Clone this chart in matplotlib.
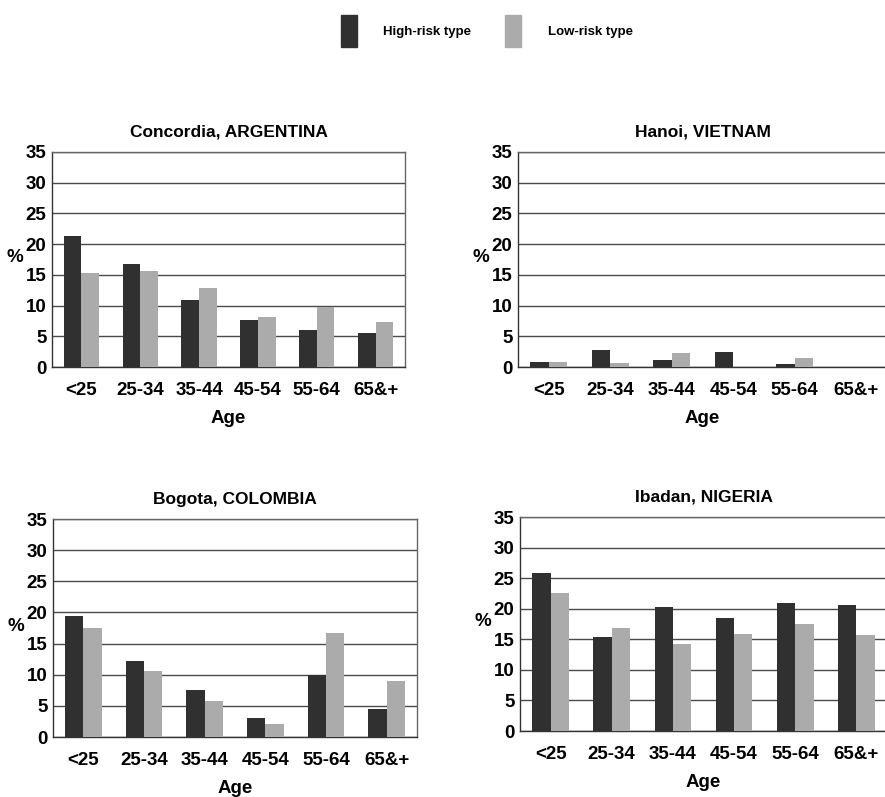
import matplotlib
matplotlib.use("Agg")
import matplotlib.pyplot as plt
from matplotlib.patches import Patch
import numpy as np

plt.rcParams['font.family'] = ['Liberation Sans', 'DejaVu Sans']
plt.rcParams['font.weight'] = 'bold'

ages = ['<25', '25-34', '35-44', '45-54', '55-64', '65&+']
series_names = ['High-risk type', 'Low-risk type']

titles = ['Concordia, ARGENTINA', 'Hanoi, VIETNAM', 'Bogota, COLOMBIA', 'Ibadan, NIGERIA']

concordia_high = [21.3, 16.7, 10.9, 7.6, 6.1, 5.5]
concordia_low = [15.3, 15.6, 12.8, 8.1, 9.8, 7.3]
hanoi_high = [0.8, 2.8, 1.1, 2.5, 0.5, 0.0]
hanoi_low = [0.8, 0.6, 2.2, 0.0, 1.4, 0.0]
bogota_high = [19.5, 12.2, 7.6, 3.0, 10.0, 4.5]
bogota_low = [17.5, 10.6, 5.8, 2.1, 16.7, 9.0]
ibadan_high = [25.8, 15.3, 20.2, 18.4, 21.0, 20.6]
ibadan_low = [22.6, 16.8, 14.2, 15.8, 17.5, 15.7]

highs = [concordia_high, hanoi_high, bogota_high, ibadan_high]
lows = [concordia_low, hanoi_low, bogota_low, ibadan_low]

c_high = '#303030'
c_low = '#ababab'

fig = plt.figure(figsize=(8.85, 7.97), dpi=100)

# axes boxes in pixels: left, top, right, bottom
boxes = [(52, 152, 405, 367), (518, 152, 887, 367),
         (53, 519, 417, 737), (520, 517, 887, 731)]
W, H = 885.0, 797.0

x = np.arange(len(ages)) + 0.5
bw = 0.3
for i in range(4):
    l, t, r, b = boxes[i]
    ax = fig.add_axes([l / W, 1 - b / H, (r - l) / W, (b - t) / H])
    ax.bar(x - bw / 2, highs[i], bw, color=c_high, zorder=3)
    ax.bar(x + bw / 2, lows[i], bw, color=c_low, zorder=3)
    ax.set_xlim(0, 6)
    ax.set_ylim(0, 35)
    ax.set_yticks(range(0, 36, 5))
    ax.set_xticks(x)
    ax.set_xticklabels(ages)
    ax.tick_params(axis='both', length=0, labelsize=13.5)
    ax.tick_params(axis='x', pad=11)
    ax.tick_params(axis='y', pad=4)
    ax.grid(axis='y', color='#4a4a4a', lw=1, zorder=0)
    for s in ['top', 'right']:
        ax.spines[s].set_color('#666666')
        ax.spines[s].set_linewidth(1)
    for s in ['left', 'bottom']:
        ax.spines[s].set_color('#333333')
        ax.spines[s].set_linewidth(1)
    ax.set_title(titles[i], fontsize=12.5, fontweight='bold', pad=11)
    ax.set_xlabel('Age', fontsize=13.5, fontweight='bold', labelpad=8)
    ax.set_ylabel('%', fontsize=13.5, fontweight='bold', rotation=0)
    ax.yaxis.set_label_coords(-37.0 / (r - l), 0.47)

handles = [Patch(color=c_high), Patch(color=c_low)]
fig.legend(handles, series_names, loc='center', bbox_to_anchor=(0.55, 0.961),
           ncol=2, frameon=False, fontsize=9.5, handlelength=1.2,
           handleheight=3.4, handletextpad=2.0, columnspacing=2.6)

fig.savefig('out.png', dpi=100)
